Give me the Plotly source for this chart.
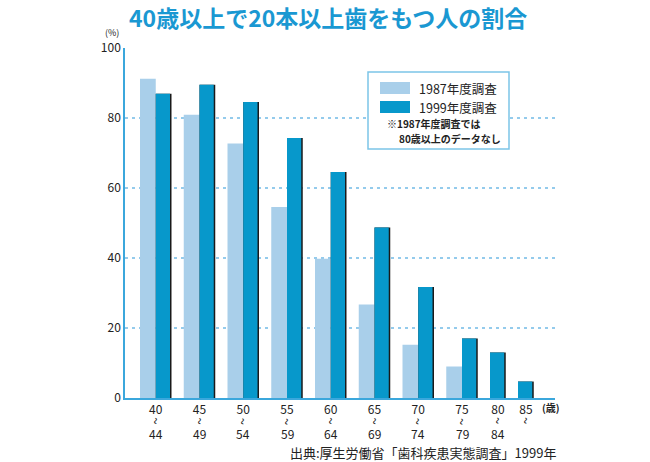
import plotly.graph_objects as go

# ---- data ----
age_from = ["40", "45", "50", "55", "60", "65", "70", "75", "80", "85"]
age_to = ["44", "49", "54", "59", "64", "69", "74", "79", "84", ""]
series_names = ["1987年度調査", "1999年度調査"]
y1987 = [91.2, 80.9, 72.7, 54.6, 39.8, 26.7, 15.2, 9.0, None, None]
y1999 = [86.9, 89.5, 84.6, 74.3, 64.6, 48.7, 31.7, 17.0, 13.0, 4.7]
y_ticks = [0, 20, 40, 60, 80, 100]
title_text = "40歳以上で20本以上歯をもつ人の割合"
note_lines = ["※1987年度調査では", "80歳以上のデータなし"]
source_text = "出典:厚生労働省「歯科疾患実態調査」1999年"

# ---- style ----
FONT = "Noto Sans CJK JP"
C1987 = "#a9cfea"
C1999 = "#0798cb"
SHADOW = "#1a1a1a"
AXIS = "#3ba7dc"
GRID = "#94cbec"
TITLE_C = "#1a98d2"
TEXT_C = "#222222"
BAR_W = 15.75
GAP = 12.25
LEFT_PAD = 15
SHADOW_W = 1.5

# layout positions of bars computed from data availability
x87, v87, x99, v99, centers = [], [], [], [], []
cursor = LEFT_PAD
for p, q in zip(y1987, y1999):
    start = cursor
    if p is not None:
        x87.append(cursor); v87.append(p); cursor += BAR_W
    if q is not None:
        x99.append(cursor); v99.append(q); cursor += BAR_W
    centers.append((start + cursor) / 2)
    cursor += GAP

fig = go.Figure()
fig.add_trace(go.Bar(x=x87, y=v87, width=BAR_W, offset=0, marker=dict(color=C1987, line=dict(width=0)),
                     name=series_names[0], showlegend=False))
fig.add_trace(go.Bar(x=x99, y=v99, width=BAR_W, offset=0, marker=dict(color=SHADOW, line=dict(width=0)),
                     showlegend=False, hoverinfo="skip"))
fig.add_trace(go.Bar(x=x99, y=v99, width=BAR_W - SHADOW_W, offset=0, marker=dict(color=C1999, line=dict(width=0)),
                     name=series_names[1], showlegend=False))

ML, MT, W, H = 125, 48, 430, 350
fig.update_layout(
    width=650, height=462,
    margin=dict(l=ML, r=650 - ML - W, t=MT, b=462 - MT - H, autoexpand=False),
    paper_bgcolor="white", plot_bgcolor="white",
    barmode="overlay",
    font=dict(family=FONT, color=TEXT_C, size=12),
    xaxis=dict(range=[0, W], tickmode="array", tickvals=centers, ticktext=age_from, automargin=False,
               showgrid=False, zeroline=False, showline=True, linecolor=AXIS, linewidth=1.5,
               ticks="", ticklabelstandoff=0, tickfont=dict(size=12, color=TEXT_C)),
    yaxis=dict(range=[0, 100], tickmode="array", tickvals=y_ticks, showgrid=False, zeroline=False,
               automargin=False,
               showline=True, linecolor=AXIS, linewidth=1.5, ticks="",
               tickfont=dict(size=12, color=TEXT_C),
               minor=dict(tickmode="array", tickvals=[20, 40, 60, 80], showgrid=True,
                          gridcolor=GRID, griddash="3px,4px", gridwidth=1.5, ticks="")),
)

def px(x):
    return (x - ML) / W
def py(y):
    return (MT + H - y) / H

# second and third lines of the age tick labels (vertical wave dash and upper bound)
for c, b in zip(centers, age_to):
    fig.add_annotation(text="~", x=c, y=py(421), xref="x", yref="paper", showarrow=False, textangle=90,
                       font=dict(size=13, color=TEXT_C), xanchor="center", yanchor="middle")
    if b:
        fig.add_annotation(text=b, x=c, y=py(434), xref="x", yref="paper", showarrow=False,
                           font=dict(size=12, color=TEXT_C), xanchor="center", yanchor="middle")

# title
fig.add_annotation(text=title_text, x=px(328), y=py(17), xref="paper", yref="paper",
                   showarrow=False, font=dict(size=23, color=TITLE_C, family=FONT, weight="bold"),
                   xanchor="center", yanchor="middle")
fig.add_annotation(text="(%)", x=px(112), y=py(33), xref="paper", yref="paper", showarrow=False,
                   font=dict(size=9, color=TEXT_C), xanchor="center", yanchor="middle")
fig.add_annotation(text="(歳)", x=px(540), y=py(408), xref="paper", yref="paper", showarrow=False,
                   font=dict(size=10, color=TEXT_C, weight="bold"), xanchor="left", yanchor="middle")
fig.add_annotation(text=source_text, x=px(558), y=py(452), xref="paper", yref="paper", showarrow=False,
                   font=dict(size=13, color=TEXT_C), xanchor="right", yanchor="middle")

# legend box
fig.add_shape(type="rect", xref="paper", yref="paper", x0=px(368), x1=px(509), y0=py(149), y1=py(72),
              line=dict(color="#7cc5e8", width=1.5), fillcolor="white", layer="above")
for col, yc, name in [(C1987, 88, series_names[0]), (C1999, 107, series_names[1])]:
    fig.add_shape(type="rect", xref="paper", yref="paper", x0=px(380), x1=px(410),
                  y0=py(yc + 6), y1=py(yc - 6), line=dict(width=0), fillcolor=col, layer="above")
    fig.add_annotation(text=name, x=px(417), y=py(yc), xref="paper", yref="paper", showarrow=False,
                       font=dict(size=12.5, color=TEXT_C), xanchor="left", yanchor="middle")
fig.add_annotation(text=note_lines[0], x=px(385), y=py(123), xref="paper", yref="paper", showarrow=False,
                   font=dict(size=10, color=TEXT_C, weight="bold"), xanchor="left", yanchor="middle")
fig.add_annotation(text=note_lines[1], x=px(397), y=py(138), xref="paper", yref="paper", showarrow=False,
                   font=dict(size=10, color=TEXT_C, weight="bold"), xanchor="left", yanchor="middle")

fig.write_html("out.html", config={"displayModeBar": False},
               post_script="document.body.style.margin='0';")
